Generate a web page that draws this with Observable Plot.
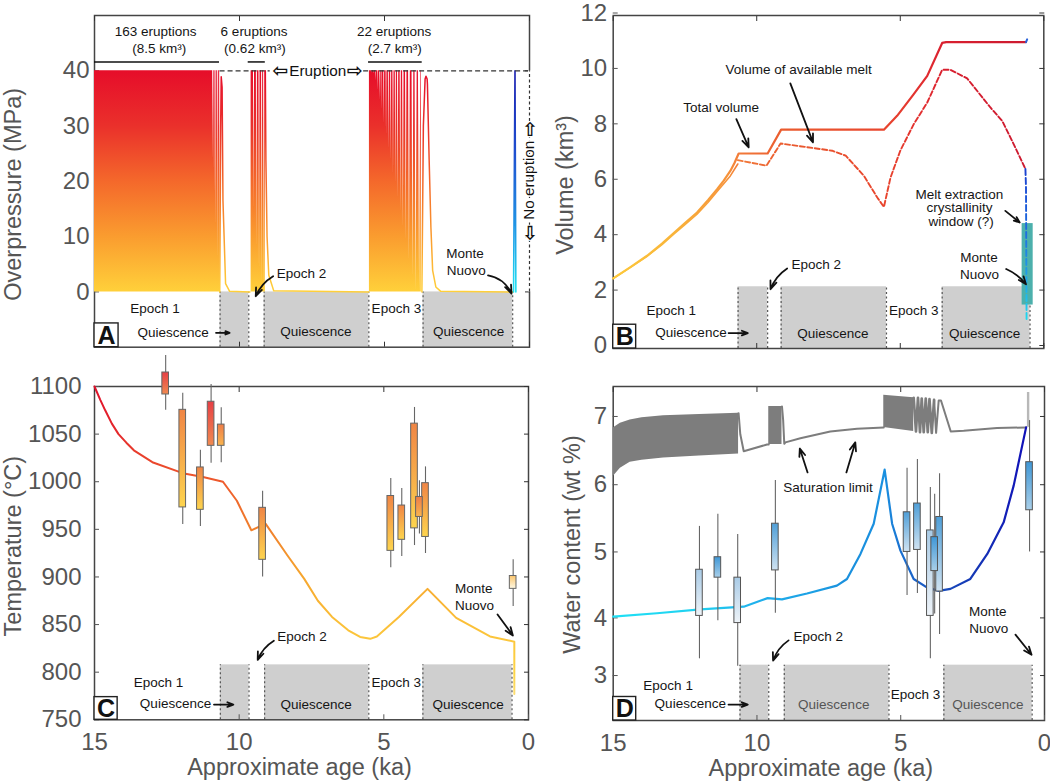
<!DOCTYPE html>
<html>
<head>
<meta charset="utf-8">
<script src="https://cdn.jsdelivr.net/npm/d3@7"></script>
<script src="https://cdn.jsdelivr.net/npm/@observablehq/plot@0.6"></script>
<style>
html,body{margin:0;padding:0;background:#fff;width:1050px;height:782px;overflow:hidden}
#page{position:relative;width:1050px;height:782px}
#page svg{position:absolute;overflow:visible}
</style>
</head>
<body>
<div id="page"></div>
<script>
// ---------- data ----------
const ageTicks = [15, 10, 5, 0];

// Panel A: overpressure (MPa)
const quiescenceA = [[10.67, 9.68], [9.15, 5.54], [3.67, 0.58]];
const eruptionBars = [[15, 10.69], [9.7, 9.11], [5.55, 3.7]];
const epoch1GapAge = [10.91, 10.86, 10.80, 10.74, 10.68];
const epoch1GapDepth = [23.8, 17.7, 11.7, 5.7, 0.9];
const epoch2GapAge = [9.50, 9.40, 9.31, 9.22, 9.15];
const epoch2GapDepth = [15, 8, 3, 1, 0];
const epoch3GapAge = [5.44, 5.37, 5.30, 5.23, 5.16, 5.10, 5.01, 4.93, 4.85, 4.77, 4.69, 4.61, 4.53, 4.44, 4.35, 4.25, 4.14, 4.02, 3.91, 3.79];
const epoch3GapDepth = [39.6, 39.4, 38.2, 36.4, 34.6, 32.8, 30.4, 28.3, 25.9, 23.8, 21.3, 19.5, 17.1, 14.4, 11.7, 9.3, 5.7, 2.7, 0, 0];
const epoch3GapHalf = [0.008, 0.008, 0.01, 0.01, 0.012, 0.012, 0.014, 0.014, 0.016, 0.016, 0.018, 0.018, 0.02, 0.02, 0.024, 0.024, 0.03, 0.03, 0.036, 0.04];
const tailAgeA = [10.68, 10.65, 10.63, 10.60, 10.57, 10.48, 10.34, 9.64, null, 9.11, 9.09, 9.05, 8.99, 8.82, 5.55, null, 3.71, 3.66, 3.60, 3.57, 3.53, 3.52, 3.46, 3.40, 3.34, 3.23, 3.06, 0.58];
const tailValA = [0, 30, 38.9, 37, 16.5, 1.5, 0.1, 0, null, 40, 24, 10, 3, 0.2, 0, null, 0, 30, 38.5, 39, 38.5, 37.6, 23.8, 11.7, 3.9, 0.9, 0.1, 0];
const monteAgeA = [0.55, 0.50, 0.47];
const monteValA = [0, 40, 0];

// Panel B: volume (km3)
const quiescenceB = [[10.65, 9.62], [9.15, 5.48], [3.54, 0.48]];
const totalAge = [15, 14.4, 13.82, 13.3, 12.89, 12.5, 12.08, 11.7, 11.38, 11.15, 10.92, 10.78, 10.63, 9.62, 9.15, 5.57, 5.11, 4.53, 4.06, 3.54, 3.40, 0.62];
const totalVol = [2.42, 2.83, 3.24, 3.68, 4.06, 4.42, 4.80, 5.24, 5.64, 5.95, 6.30, 6.58, 6.93, 6.93, 7.79, 7.79, 8.29, 9.07, 9.73, 10.92, 10.95, 10.95];
const meltEarlyAge = [15, 14.4, 13.82, 13.3, 12.89, 12.5, 12.08, 11.7, 11.38, 11.15, 10.92, 10.66];
const meltEarlyVol = [2.42, 2.82, 3.22, 3.64, 4.02, 4.36, 4.74, 5.16, 5.56, 5.84, 6.12, 6.55];
const meltAge = [10.66, 9.66, 9.17, 7.37, 6.90, 6.27, 5.80, 5.57, 5.34, 5.00, 4.53, 4.06, 3.54, 3.25, 2.67, 1.86, 1.45, 1.05, 0.64];
const meltVol = [6.69, 6.49, 7.29, 7.03, 6.85, 6.13, 5.34, 5.00, 6.06, 7.03, 7.99, 8.77, 9.95, 9.95, 9.64, 8.59, 8.11, 7.27, 6.37];
const meltEndAge = [0.64, 0.62, 0.60];
const meltEndVol = [6.37, 5.70, 0.89];
const totalEndAge = [0.62, 0.58];
const totalEndVol = [10.95, 11.05];
const windowAge = [0.755, 0.37];
const windowVol = [1.46, 4.40];

// Panel C: temperature (deg C)
const quiescenceC = [[10.65, 9.66], [9.12, 5.52], [3.65, 0.57]];
const tempAge = [15, 14.8, 14.63, 14.4, 14.17, 13.9, 13.64, 13, 11.95, 11.25, 10.56, 10.08, 9.58, 9.09, 8.33, 7.75, 7.28, 6.79, 6.23, 5.82, 5.47, 5.24, 4.48, 3.49, 2.5, 1.33, 0.49, 0.49];
const tempVal = [1100, 1086, 1075, 1061, 1050, 1041, 1033, 1020.5, 1009, 1005, 1000, 980, 949, 956, 922.5, 898, 875, 858, 844, 837, 835, 837.5, 858, 887.5, 857, 837.5, 832, 777];
const tempBoxAge = [12.54, 11.95, 11.34, 10.97, 10.62, 9.19, 4.76, 4.38, 3.94, 3.56, 3.77, 0.53];
const tempWhiskerHi = [1132.5, 1093, 1033, 1102, 1077.6, 990, 1003.4, 993, 1078, 1015.6, 1001, 918];
const tempWhiskerLo = [1075, 955, 953, 1019.5, 1020, 900, 909.6, 921.5, 933, 924.6, 945, 869];
const tempBoxHi = [1114.7, 1075.5, 1015, 1084, 1060, 972.6, 985, 975, 1061, 998.5, 984, 901];
const tempBoxLo = [1091.6, 973, 970.5, 1037.7, 1037.7, 918, 927.4, 939, 951, 942, 963, 887.5];
const tempBoxTone = ["hot", "warm", "warm", "hot", "mid", "warm", "warm", "warm", "warm", "warm", "mid", "pale"];

// Panel D: water content (wt %); the printed axis is unevenly spaced, so the tick positions are read too
const waterAxisValues = [2.35, 3, 4, 5, 6, 7, 7.45];
const waterAxisHeights = [0, 45, 102.7, 168.7, 236, 304.3, 334.3];
const quiescenceD = [[10.59, 9.59], [9.05, 5.41], [3.5, 0.43]];
const waterAge = [15, 13.48, 11.97, 10.46, 9.63, 9.13, 8.26, 7.22, 6.87, 6.4, 5.94, 5.56, 5.3, 5.01, 4.55, 4.08, 3.68, 3.27, 2.58, 1.99, 1.42, 1.07, 0.64];
const waterVal = [4.02, 4.07, 4.13, 4.17, 4.30, 4.28, 4.37, 4.49, 4.59, 4.97, 5.42, 6.22, 5.42, 5.02, 4.59, 4.46, 4.41, 4.44, 4.59, 4.97, 5.44, 5.99, 6.84];
const satBandAge = [15, 14.75, 14.41, 14, 13.25, 12, 10.64, null, 9.59, 9.13, null, 5.59, 4.55];
const satBandHi = [6.83, 6.90, 6.95, 6.98, 7.01, 7.03, 7.05, null, 7.15, 7.15, null, 7.32, 7.28];
const satBandLo = [6.12, 6.24, 6.33, 6.36, 6.39, 6.42, 6.45, null, 6.59, 6.59, null, 6.84, 6.78];
const satLineAge = [10.64, 10.58, 10.46, 9.65, 9.59, null, 9.13, 9.09, 9.05, 9.01, 8.49, 7.45, 6.52, 5.59, null, 3.84, 3.77, 3.68, 3.60, 3.26, 2.81, 1.65, 0.64];
const satLineVal = [7.05, 6.74, 6.49, 6.59, 6.59, null, 7.15, 6.95, 6.60, 6.62, 6.68, 6.78, 6.82, 6.84, null, 7.25, 6.76, 7.24, 7.24, 6.78, 6.79, 6.83, 6.84];
const satSawAge = [4.55, 4.47, 4.40, 4.33, 4.27, 4.20, 4.13, 4.06, 4.00, 3.92, 3.84];
const satSawVal = [7.28, 6.78, 7.28, 6.77, 7.27, 6.77, 7.27, 6.77, 7.26, 6.76, 7.25];
const satSpikeAge = 0.57;
const satSpikeVal = [6.84, 7.36];
const waterBoxAge = [12.0, 11.36, 10.67, 9.36, 4.78, 4.42, 3.97, 3.65, 3.82, 0.52];
const waterWhiskerHi = [5.38, 5.56, 5.26, 6.06, 6.24, 6.37, 5.96, 6.16, 5.86, 6.94];
const waterWhiskerLo = [3.29, 3.95, 3.16, 4.07, 4.34, 4.37, 3.29, 3.71, 4.06, 5.0];
const waterBoxHi = [4.73, 4.92, 4.61, 5.42, 5.59, 5.72, 5.32, 5.52, 5.22, 6.33];
const waterBoxLo = [4.03, 4.61, 3.91, 4.72, 5.0, 5.03, 4.03, 4.40, 4.71, 5.62];
const waterBoxTone = ["pale", "mid", "pale", "fade", "fade", "fade", "pale", "fade", "mid", "mid"];

// Annotations: age, value, text
const labelsA = [
  [12.89, 47.08, "163 eruptions"], [12.77, 44.08, "(8.5 km³)"], [9.5, 47.08, "6 eruptions"], [9.47, 44.08, "(0.62 km³)"],
  [4.67, 47.08, "22 eruptions"], [4.65, 44.08, "(2.7 km³)"], [12.91, -3, "Epoch 1"], [4.59, -3, "Epoch 3"],
  [12.29, -7.3, "Quiescence"], [7.37, -7.15, "Quiescence"], [2.1, -7.15, "Quiescence"], [7.86, 3.3, "Epoch 2"],
  [2.22, 6.9, "Monte"], [2.18, 3.9, "Nuovo"]
];
const labelsB = [
  [11.24, 8.59, "Total volume"], [8.54, 9.94, "Volume of available melt"], [7.93, 2.9, "Epoch 2"], [12.98, 1.25, "Epoch 1"],
  [4.53, 1.25, "Epoch 3"], [12.29, 0.47, "Quiescence"], [7.35, 0.43, "Quiescence"], [2.06, 0.43, "Quiescence"],
  [2.94, 5.46, "Melt extraction"], [2.94, 4.96, "crystallinity"], [2.88, 4.46, "window (?)"], [2.26, 3.16, "Monte"], [2.24, 2.56, "Nuovo"]
];
const labelsC = [
  [7.83, 837.5, "Epoch 2"], [1.89, 887.5, "Monte"], [1.87, 870, "Nuovo"], [12.79, 789.5, "Epoch 1"], [4.57, 789.5, "Epoch 3"],
  [12.2, 766.8, "Quiescence"], [7.34, 765.7, "Quiescence"], [2.09, 765.7, "Quiescence"]
];
const labelsD = [
  [7.53, 5.95, "Saturation limit"], [7.87, 3.68, "Epoch 2"], [1.97, 4.09, "Monte"], [1.94, 3.81, "Nuovo"], [13.09, 2.85, "Epoch 1"],
  [12.32, 2.6, "Quiescence"], [4.49, 2.73, "Epoch 3"]
];
const labelsDGrey = [[7.33, 2.58, "Quiescence"], [1.97, 2.58, "Quiescence"]];

// Annotation arrows: from age, from value, to age, to value, bend
const arrowsA = [[8.84, 2.83, 9.44, -0.78, -18], [1.43, 3, 0.62, -0.3, 28], [10.81, -7.4, 10.34, -7.4, 0]];
const arrowsB = [[10.71, 8.17, 10.28, 7.15, 0], [8.83, 9.46, 8.04, 7.33, 0], [8.94, 2.78, 9.52, 2.03, -18], [10.98, 0.45, 10.31, 0.45, 0], [1.34, 4.86, 0.84, 4.44, 0], [1.31, 2.76, 0.62, 2.21, 14]];
const arrowsC = [[8.8, 833, 9.36, 813, -18], [1.07, 860.6, 0.54, 838.5, 0], [10.87, 766, 10.2, 766, 0]];
const arrowsD = [[8.24, 6.18, 8.51, 6.53, 0], [6.89, 6.18, 6.58, 6.62, 0], [8.9, 3.61, 9.44, 3.26, -18], [1.01, 3.71, 0.45, 3.36, 0], [10.99, 2.58, 10.32, 2.58, 0]];

// Gradient stops: data value, colour
const pressureStops = [[40, "#e60d2a"], [30, "#ea302b"], [20, "#f4682b"], [10, "#fa9c2f"], [0, "#ffd03a"]];
const monteStopsA = [[40, "#1a1fb0"], [25, "#1f50d0"], [10, "#20a0e8"], [0, "#20e2f2"]];
const volumeStops = [[15, "#fdc93b"], [13, "#f9b53a"], [11, "#f6923a"], [10.6, "#f27a3a"], [9, "#ea5a2e"], [5.5, "#e8452e"], [4, "#e02a30"], [3.5, "#d9202f"], [0.6, "#cc1a30"]];
const meltEndStops = [[6.4, "#1a3fd0"], [4, "#1e70e0"], [2, "#20b0ea"], [0.9, "#20dcf0"]];
const tempStops = [[1100, "#e0102a"], [1050, "#e42a2c"], [1000, "#ee5a2c"], [950, "#f0802c"], [900, "#f6a62e"], [850, "#fbc038"], [800, "#fdd445"], [770, "#fde080"]];
const waterStops = [[15, "#1fe0f5"], [12, "#20d0f0"], [10, "#20b0ec"], [8, "#1c9fe4"], [7, "#1a90dd"], [5.56, "#1a90e0"], [5, "#1a70d0"], [4, "#1a55c0"], [2.5, "#1538b5"], [0.64, "#1010b8"]];
const tempBoxStops = {hot: ["#e63f45", "#f08a50"], warm: ["#f08545", "#fdd44e"], mid: ["#ee7d48", "#f9b44e"], pale: ["#fbc56c", "#fff9e4"]};
const waterBoxStops = {pale: ["#a9cbe6", "#eef3f8"], mid: ["#3f97d6", "#a9cfe9"], fade: ["#4f9fd8", "#cfe2f1"]};

// ---------- helpers ----------
const FONT = "'Liberation Sans', Arial, sans-serif";
const INK = "#555";
const GREY = "#cfcfcf";
const table = (xs, ys) => xs.map((a, i) => ({a, v: ys[i]}));
const wedges = (start, gapAge, gapDepth, half, end) => [
  {a: start, v: 40},
  ...gapAge.flatMap((a, i) => {
    const h = Array.isArray(half) ? half[i] : half;
    return [{a: a + h, v: 40}, {a, v: gapDepth[i]}, {a: a - h, v: 40}];
  }),
  {a: end, v: 40}
];
function axisGradient(id, axis, stops) {
  return (index, scales) => {
    const s = scales[axis], first = s(stops[0][0]), last = s(stops[stops.length - 1][0]);
    const defs = d3.create("svg:defs");
    const g = defs.append("linearGradient").attr("id", id).attr("gradientUnits", "userSpaceOnUse");
    if (axis === "x") g.attr("x1", first).attr("x2", last).attr("y1", 0).attr("y2", 0);
    else g.attr("y1", first).attr("y2", last).attr("x1", 0).attr("x2", 0);
    for (const [value, color] of stops) g.append("stop").attr("offset", (s(value) - first) / (last - first)).attr("stop-color", color);
    return defs.node();
  };
}
function boxGradients(prefix, stops) {
  return () => {
    const defs = d3.create("svg:defs");
    for (const [tone, [top, bottom]] of Object.entries(stops)) {
      const g = defs.append("linearGradient").attr("id", prefix + tone).attr("x1", 0).attr("x2", 0).attr("y1", 0).attr("y2", 1);
      g.append("stop").attr("offset", 0).attr("stop-color", top);
      g.append("stop").attr("offset", 1).attr("stop-color", bottom);
    }
    return defs.node();
  };
}
const bands = (rows, lo, hi) => [
  Plot.rect(rows, {x1: d => d[0], x2: d => d[1], y1: lo, y2: hi, fill: GREY}),
  Plot.ruleX(rows.flat(), {y1: lo, y2: hi, stroke: "#555", strokeWidth: 1.2, strokeDasharray: "2,2.5"})
];
const notes = (rows, opts = {}) => Plot.text(rows, {x: d => d[0], y: d => d[1], text: d => d[2], fontSize: 13.5, fill: "#151515", ...opts});
const arrows = rows => rows.map(r => Plot.arrow([r], {x1: d => d[0], y1: d => d[1], x2: d => d[2], y2: d => d[3], bend: r[4], stroke: "#111", strokeWidth: 1.8, headLength: 7.5, headAngle: 42, inset: 0}));
const letterBox = (letter, hiAge, loVal, hiVal) => [
  Plot.rect([0], {x1: 15, x2: hiAge, y1: loVal, y2: hiVal, fill: "white", stroke: "#222", strokeWidth: 1.4}),
  Plot.text([letter], {x: (15 + hiAge) / 2, y: (loVal + hiVal) / 2, text: d => d, fontSize: 25, fontWeight: "bold", fill: "#111", dy: 0.5})
];
const axes = (yTicks, xText, yPad, yLabel = d => `${d}`) => [
  xText
    ? Plot.axisX({anchor: "bottom", ticks: ageTicks, tickSize: -5, tickPadding: 18, label: null, color: INK, fontSize: 24, tickFormat: d => `${d}`})
    : Plot.axisX({anchor: "bottom", ticks: ageTicks, tickSize: -5, label: null, stroke: "#333", fill: "none"}),
  Plot.axisX({anchor: "top", ticks: ageTicks, tickSize: -5, label: null, stroke: "#333", fill: "none"}),
  Plot.axisY({anchor: "left", ticks: yTicks, tickSize: -5, tickPadding: yPad, label: null, color: INK, fontSize: 24, tickFormat: yLabel}),
  Plot.axisY({anchor: "right", ticks: yTicks, tickSize: -5, label: null, stroke: "#333", fill: "none"})
];
const yTitle = (t, dx, dy) => Plot.text([t], {text: d => d, frameAnchor: "left", textAnchor: "middle", rotate: -90, dx, dy, fontSize: 23.5, fill: INK});
const xTitle = (t, dx) => Plot.text([t], {text: d => d, frameAnchor: "bottom", dx, dy: 55, fontSize: 23.5, fill: INK});
const frame = () => Plot.frame({stroke: "#444", strokeWidth: 1.5});
const place = (svg, left, top) => { svg.style.left = left + "px"; svg.style.top = top + "px"; document.getElementById("page").append(svg); };
const base = {style: {fontFamily: FONT, background: "transparent", overflow: "visible"}};
const blockArrow = (glyph, x, y, rotate = 0) => Plot.text([glyph], {x, y, text: d => d, rotate, fontSize: 19, fontWeight: "bold", fontFamily: "'DejaVu Sans'", fill: "#111", stroke: rotate ? "white" : "none", strokeWidth: 2});

// ---------- Panel A ----------
const plotA = Plot.plot({
  ...base, width: 540, height: 360, marginLeft: 94, marginRight: 11, marginTop: 15, marginBottom: 13.3,
  x: {domain: [15, 0]}, y: {domain: [-10, 50]},
  marks: [
    axisGradient("gA", "y", pressureStops), axisGradient("gAm", "y", monteStopsA),
    ...bands(quiescenceA, -10, 0),
    frame(), ...axes([0, 10, 20, 30, 40], false, 10),
    Plot.areaY(wedges(15, epoch1GapAge, epoch1GapDepth, 0.014, 10.66), {x: "a", y1: 0, y2: "v", fill: "url(#gA)"}),
    Plot.areaY(wedges(9.6, epoch2GapAge, epoch2GapDepth, 0.018, 9.11), {x: "a", y1: 0, y2: "v", fill: "url(#gA)"}),
    Plot.areaY(wedges(5.52, epoch3GapAge, epoch3GapDepth, epoch3GapHalf, 3.73), {x: "a", y1: 0, y2: "v", fill: "url(#gA)"}),
    Plot.line(table(tailAgeA, tailValA), {x: "a", y: "v", stroke: "url(#gA)", strokeWidth: 1.5}),
    Plot.line(table(monteAgeA, monteValA), {x: "a", y: "v", stroke: "url(#gAm)", strokeWidth: 1.6}),
    Plot.ruleY(eruptionBars, {x1: d => d[0], x2: d => d[1], y: 41.6, stroke: "#111", strokeWidth: 1.5}),
    Plot.ruleY([[10.67, 8.94], [5.72, 0]], {x1: d => d[0], x2: d => d[1], y: 40, stroke: "#333", strokeWidth: 1.3, strokeDasharray: "5,3"}),
    Plot.ruleX([0], {y1: 0, y2: 40, stroke: "white", strokeWidth: 3}),
    Plot.ruleX([0], {y1: 0, y2: 40, stroke: "#333", strokeWidth: 1.2, strokeDasharray: "3,2.5"}),
    Plot.text(["Eruption"], {x: 7.3, y: 40, text: d => d, fontSize: 15.3, fill: "#111"}),
    blockArrow("⇦", 8.6, 40), blockArrow("⇨", 6.03, 40),
    Plot.text(["No eruption"], {x: 0, y: 20.2, text: d => d, rotate: -90, fontSize: 15.3, fill: "#111", stroke: "white", strokeWidth: 3}),
    blockArrow("⇨", 0, 29.5, -90), blockArrow("⇦", 0, 10.7, -90),
    notes(labelsA), ...arrows(arrowsA),
    ...letterBox("A", 14.17, -10, -5.7),
    yTitle("Overpressure (MPa)", -81, 13)
  ]
});
place(plotA, 0, 0);

// ---------- Panel B ----------
const plotB = Plot.plot({
  ...base, width: 520, height: 360, marginLeft: 82.7, marginRight: 6.7, marginTop: 15, marginBottom: 12,
  x: {domain: [15, 0]}, y: {domain: [-0.108, 11.91]},
  marks: [
    axisGradient("gB", "x", volumeStops), axisGradient("gBm", "y", meltEndStops),
    ...bands(quiescenceB, -0.108, 2.12),
    frame(), ...axes([0, 2, 4, 6, 8, 10, 12], false, 11),
    Plot.rect([0], {x1: windowAge[0], x2: windowAge[1], y1: windowVol[0], y2: windowVol[1], fill: "#4cb0ac"}),
    Plot.line(table(meltEarlyAge, meltEarlyVol), {x: "a", y: "v", stroke: "url(#gB)", strokeWidth: 1.6}),
    Plot.line(table(totalAge, totalVol), {x: "a", y: "v", stroke: "url(#gB)", strokeWidth: 2.2}),
    Plot.line(table(totalEndAge, totalEndVol), {x: "a", y: "v", stroke: "#2a62d8", strokeWidth: 2}),
    Plot.line(table(meltAge, meltVol), {x: "a", y: "v", stroke: "url(#gB)", strokeWidth: 1.9, strokeDasharray: "5,2.5"}),
    Plot.line(table(meltEndAge, meltEndVol), {x: "a", y: "v", stroke: "url(#gBm)", strokeWidth: 1.9, strokeDasharray: "6,3"}),
    notes(labelsB), ...arrows(arrowsB),
    ...letterBox("B", 14.2, -0.108, 0.75),
    yTitle("Volume (km³)", -48, 3)
  ]
});
place(plotB, 530, 0);

// ---------- Panel C ----------
const tempBoxes = tempBoxAge.map((a, i) => ({a, wh: tempWhiskerHi[i], wl: tempWhiskerLo[i], bh: tempBoxHi[i], bl: tempBoxLo[i], fill: "url(#bc" + tempBoxTone[i] + ")"}));
const plotC = Plot.plot({
  ...base, width: 540, height: 422, marginLeft: 94, marginRight: 12, marginTop: 26, marginBottom: 62.7,
  x: {domain: [15, 0]}, y: {domain: [750, 1100]}, color: {type: "identity"},
  marks: [
    axisGradient("gC", "y", tempStops), boxGradients("bc", tempBoxStops),
    ...bands(quiescenceC, 750, 807.7),
    frame(), ...axes([750, 800, 850, 900, 950, 1000, 1050, 1100], true, 18),
    Plot.line(table(tempAge, tempVal), {x: "a", y: "v", stroke: "url(#gC)", strokeWidth: 2}),
    Plot.ruleX(tempBoxes, {x: "a", y1: "wl", y2: "wh", stroke: "#666", strokeWidth: 1.1}),
    Plot.rect(tempBoxes, {x1: d => d.a + 0.115, x2: d => d.a - 0.115, y1: "bl", y2: "bh", fill: "fill", stroke: "#666", strokeWidth: 1}),
    notes(labelsC), ...arrows(arrowsC),
    ...letterBox("C", 14.2, 750, 773.8),
    yTitle("Temperature (°C)", -81, -7),
    xTitle("Approximate age (ka)", -12)
  ]
});
place(plotC, 0, 360);

// ---------- Panel D ----------
const waterAxis = d3.scaleLinear().domain(waterAxisValues).range(waterAxisHeights);
const waterBoxes = waterBoxAge.map((a, i) => ({a, wh: waterWhiskerHi[i], wl: waterWhiskerLo[i], bh: waterBoxHi[i], bl: waterBoxLo[i], fill: "url(#bd" + waterBoxTone[i] + ")"}));
const satBand = satBandAge.map((a, i) => ({a, hi: satBandHi[i], lo: satBandLo[i]}));
const plotD = Plot.plot({
  ...base, width: 520, height: 422, marginLeft: 82.7, marginRight: 6, marginTop: 26, marginBottom: 62,
  x: {domain: [15, 0]},
  y: {transform: d => d == null ? NaN : waterAxis(d), domain: [waterAxisHeights[0], waterAxisHeights[waterAxisHeights.length - 1]]},
  color: {type: "identity"},
  marks: [
    axisGradient("gD", "x", waterStops), boxGradients("bd", waterBoxStops),
    ...bands(quiescenceD, 2.35, 3.18),
    frame(), ...axes([3, 4, 5, 6, 7].map(waterAxis), true, 11, h => `${Math.round(waterAxis.invert(h))}`),
    Plot.areaY(satBand, {x: "a", y1: "lo", y2: "hi", fill: "#7d7d7d"}),
    Plot.line(table(satLineAge, satLineVal), {x: "a", y: "v", stroke: "#7d7d7d", strokeWidth: 2}),
    Plot.line(table(satSawAge, satSawVal), {x: "a", y: "v", stroke: "#7d7d7d", strokeWidth: 2.7}),
    Plot.ruleX([satSpikeAge], {y1: satSpikeVal[0], y2: satSpikeVal[1], stroke: "#b8b8b8", strokeWidth: 2.4}),
    Plot.line(table(waterAge, waterVal), {x: "a", y: "v", stroke: "url(#gD)", strokeWidth: 2.2}),
    Plot.ruleX(waterBoxes, {x: "a", y1: "wl", y2: "wh", stroke: "#666", strokeWidth: 1.1}),
    Plot.rect(waterBoxes, {x1: d => d.a + 0.115, x2: d => d.a - 0.115, y1: "bl", y2: "bh", fill: "fill", stroke: "#555", strokeWidth: 1}),
    notes(labelsD), notes(labelsDGrey, {fill: "#555"}), ...arrows(arrowsD),
    ...letterBox("D", 14.2, 2.35, 2.69),
    yTitle("Water content (wt %)", -41, -9),
    xTitle("Approximate age (ka)", -8)
  ]
});
place(plotD, 530, 360);
</script>
</body>
</html>
